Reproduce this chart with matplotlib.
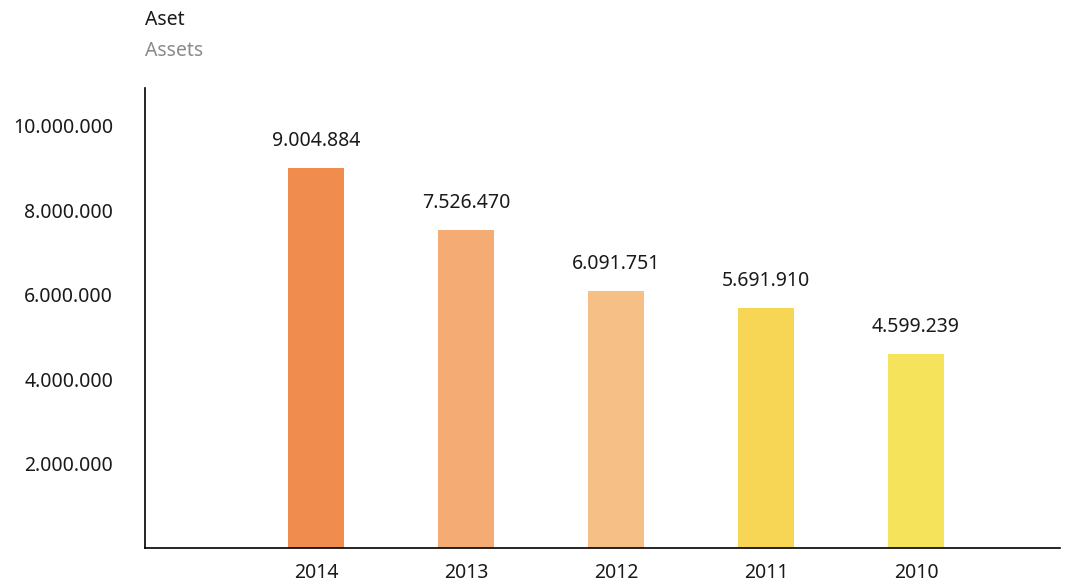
import matplotlib
matplotlib.use('Agg')
import matplotlib.pyplot as plt

# datos del grafico
years = ['2014', '2013', '2012', '2011', '2010']
assets = [9004884, 7526470, 6091751, 5691910, 4599239]
value_labels = ['9.004.884', '7.526.470', '6.091.751', '5.691.910', '4.599.239']
ticks = [2000000, 4000000, 6000000, 8000000, 10000000]
tick_labels = ['2.000.000', '4.000.000', '6.000.000', '8.000.000', '10.000.000']
colors = ['#EF8C4E', '#F4AB74', '#F5BF86', '#F7D655', '#F5E35C']

plt.rcParams['font.family'] = ['Noto Sans', 'DejaVu Sans']
fs = 14

fig = plt.figure(figsize=(10.76, 5.86), dpi=100)
ax = fig.add_axes([145/1076, 38/586, 915/1076, 460/586])

xs = list(range(len(years)))
ax.bar(xs, assets, width=0.37, color=colors, zorder=2)

# etiquetas de valor sobre cada barra
for x, v, lab in zip(xs, assets, value_labels):
    ax.annotate(lab, xy=(x, v), xytext=(0, 19.5), textcoords='offset points',
                ha='center', va='center', fontsize=fs, color='#1a1a1a')

ax.set_xlim(-1.14, 4.96)
ax.set_ylim(0, 10900000)
ax.set_xticks(xs)
ax.set_xticklabels(years, fontsize=fs, color='#1a1a1a')
ax.set_yticks(ticks)
ax.set_yticklabels(tick_labels, fontsize=fs, color='#1a1a1a')
ax.tick_params(axis='both', length=0)
ax.tick_params(axis='y', pad=23)
ax.tick_params(axis='x', pad=11)

for s in ['top', 'right']:
    ax.spines[s].set_visible(False)
for s in ['left', 'bottom']:
    ax.spines[s].set_linewidth(1.2)
    ax.spines[s].set_color('black')
    ax.spines[s].set_zorder(3)

# titulos
fig.text(145/1076, 1 - 20/586, 'Aset', fontsize=fs, color='#1a1a1a', va='center', ha='left')
fig.text(145/1076, 1 - 51/586, 'Assets', fontsize=fs, color='#8a8a8a', va='center', ha='left')

fig.savefig('out.png', dpi=100)
